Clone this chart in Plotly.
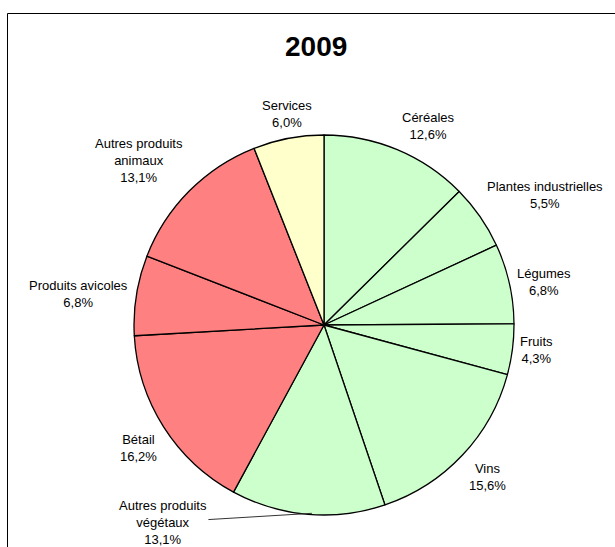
import math
import plotly.graph_objects as go

# Agricultural output shares, 2009 (percent), clockwise from 12 o'clock
labels = [
    "Céréales", "Plantes industrielles", "Légumes", "Fruits", "Vins",
    "Autres produits<br>végétaux", "Bétail", "Produits avicoles",
    "Autres produits<br>animaux", "Services",
]
shares = [12.6, 5.5, 6.8, 4.3, 15.6, 13.1, 16.2, 6.8, 13.1, 6.0]
groups = ["veg", "veg", "veg", "veg", "veg", "veg", "ani", "ani", "ani", "srv"]
title_text = "2009"

group_colors = {"veg": "#CCFFCC", "ani": "#FF8080", "srv": "#FFFFCC"}

W, H = 615, 547
CX, CY, R = 324, 325, 190  # pie centre and radius in pixels
LABEL_GAP = 6
FONT = "Liberation Sans, Arial, sans-serif"
LABEL_SIZE = 13


def px(x):
    return x / W


def py(y):
    return 1 - y / H


fig = go.Figure(
    go.Pie(
        labels=labels,
        values=shares,
        sort=False,
        direction="clockwise",
        rotation=0,
        textinfo="none",
        hoverinfo="skip",
        showlegend=False,
        marker=dict(
            colors=[group_colors[g] for g in groups],
            line=dict(color="#000000", width=1.3),
        ),
        domain=dict(x=[px(CX - R), px(CX + R)], y=[py(CY + R), py(CY - R)]),
    )
)

annotations = []
total = sum(shares)
cum = 0.0
for lab, val in zip(labels, shares):
    mid = (cum + val / 2) / total * 2 * math.pi
    cum += val
    s, c = math.sin(mid), math.cos(mid)
    text = f"{lab}<br>{val:.1f}%".replace(".", ",")
    if c < -0.95:
        # bottom slice: label pushed to the left with a leader line
        tipx, tipy = CX + R * s, CY - R * c
        annotations.append(dict(
            x=px(tipx + 4), y=py(tipy - 1), xref="paper", yref="paper",
            text=text, showarrow=True, arrowhead=0, arrowwidth=1,
            arrowcolor="#333333", ax=-149, ay=9, standoff=0,
            font=dict(family=FONT, size=LABEL_SIZE, color="#000000"),
            align="center",
        ))
        continue
    r = R + LABEL_GAP
    ax_, ay_ = CX + r * s, CY - r * c
    xanchor = "left" if s > 0.3 else ("right" if s < -0.3 else "center")
    yanchor = "bottom" if c > 0.5 else ("top" if c < -0.5 else "middle")
    annotations.append(dict(
        x=px(ax_), y=py(ay_), xref="paper", yref="paper",
        text=text, showarrow=False, xanchor=xanchor, yanchor=yanchor,
        font=dict(family=FONT, size=LABEL_SIZE, color="#000000"),
        align="center",
    ))

annotations.append(dict(
    x=px(316), y=py(47), xref="paper", yref="paper", text=f"<b>{title_text}</b>",
    showarrow=False, xanchor="center", yanchor="middle",
    font=dict(family=FONT, size=28, color="#000000"),
))

fig.update_layout(
    width=W, height=H,
    margin=dict(l=0, r=0, t=0, b=0),
    paper_bgcolor="#FFFFFF",
    plot_bgcolor="#FFFFFF",
    annotations=annotations,
    shapes=[
        dict(type="line", xref="paper", yref="paper",
             x0=px(7.5), x1=px(7.5), y0=py(13.5), y1=py(H + 5),
             line=dict(color="#000000", width=1)),
        dict(type="line", xref="paper", yref="paper",
             x0=px(7.5), x1=px(W + 5), y0=py(13.5), y1=py(13.5),
             line=dict(color="#000000", width=1)),
    ],
)

fig.write_html("out.html")
